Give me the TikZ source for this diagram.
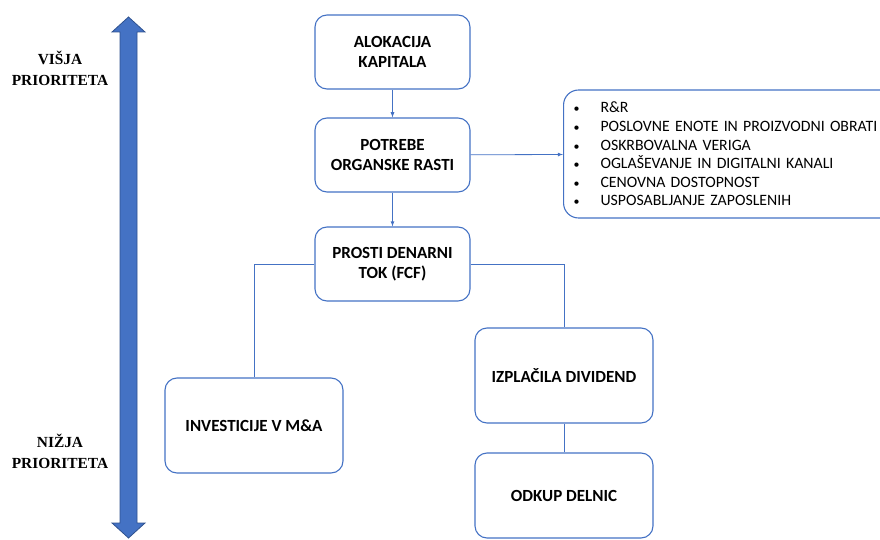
\documentclass[tikz,border=0pt]{standalone}
\usepackage{fontspec}
\setmainfont{Carlito}
\newfontfamily\timesfont{Liberation Serif}
\usepackage{tikz}
\usetikzlibrary{arrows}

\definecolor{boxblue}{HTML}{4472C4}
\definecolor{arrowedge}{HTML}{2F528F}
\newcommand{\listbullet}{\makebox[27pt][l]{\fontsize{12}{12}\selectfont\textbullet}}

\begin{document}
\begin{tikzpicture}[x=1pt,y=-1pt,
		box/.style={draw=boxblue,line width=1.1pt,rounded corners=12pt,minimum width=155pt,minimum height=74pt,align=center,font=\fontsize{17}{20}\selectfont\bfseries},
		prio/.style={align=center,font=\timesfont\fontsize{15.4}{21}\selectfont\bfseries},
		link/.style={draw=boxblue,line width=0.8pt}]
			\useasboundingbox (0,0) rectangle (880,540);
			
			% priority arrow
			
			\filldraw[fill=boxblue,draw=arrowedge,line width=0.8pt]
				(128.5,17) -- (145,32) -- (137,32) -- (137,523) -- (145,523) -- (128.5,538)
				-- (112,523) -- (120,523) -- (120,32) -- (112,32) -- cycle;
			\node[prio] (high) at (60,68) {VIŠJA\\PRIORITETA};
			\node[prio] (low) at (60,451) {NIŽJA\\PRIORITETA};
			
			% main chain
			
			\node[box] (alloc) at (392.5,52) {ALOKACIJA\\KAPITALA};
			\node[box] (growth) at (392.5,155) {POTREBE\\ORGANSKE RASTI};
			\node[box] (fcf) at (392.5,264) {PROSTI DENARNI\\TOK (FCF)};
			\draw[link,-latex] (alloc) -- (growth);
			\draw[link,-latex] (growth) -- (fcf);
			
			% list
			
			\node[draw=boxblue,line width=1.1pt,rounded corners=15pt,minimum height=128pt,anchor=west,
				text width=340pt,inner xsep=10pt,align=left,font=\fontsize{15.8}{18.6}\selectfont] (list) at (563,154)
				{\listbullet R\&R\\
				 \listbullet POSLOVNE ENOTE IN PROIZVODNI OBRATI\\
				 \listbullet OSKRBOVALNA VERIGA\\
				 \listbullet OGLAŠEVANJE IN DIGITALNI KANALI\\
				 \listbullet CENOVNA DOSTOPNOST\\
				 \listbullet USPOSABLJANJE ZAPOSLENIH};
			\draw[link,-latex] (growth) -- (list);
			
			% uses of FCF
			
			\node[box,minimum width=178pt,minimum height=95pt] (invest) at (254,425.5) {INVESTICIJE V M\&A};
			\node[box,minimum width=178pt,minimum height=95pt] (divid) at (564,375.5) {IZPLAČILA DIVIDEND};
			\node[box,minimum width=178pt,minimum height=85pt] (odkup) at (564,495.5) {ODKUP DELNIC};
			\draw[link] (fcf.west) -| (invest.north);
			\draw[link] (fcf.east) -| (divid.north);
			\draw[link] (divid) -- (odkup);
		\end{tikzpicture}
\end{document}
